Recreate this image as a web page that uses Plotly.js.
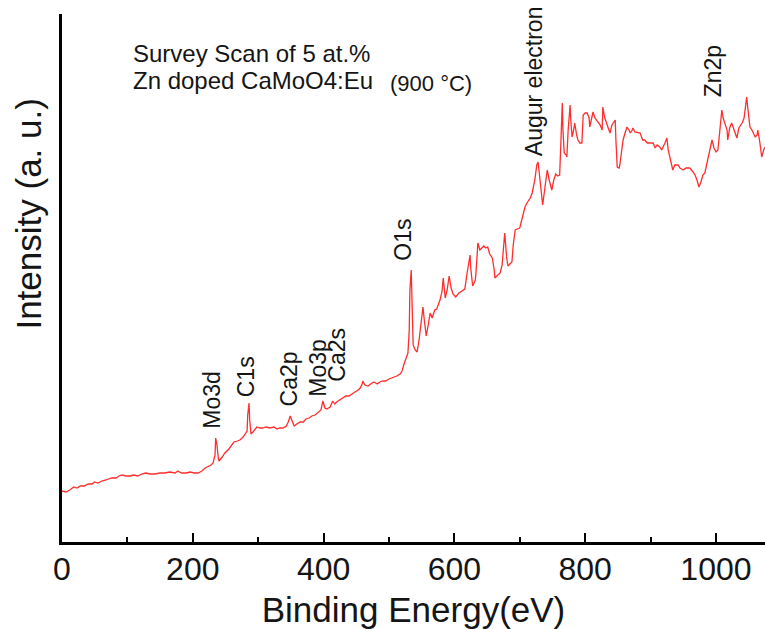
<!DOCTYPE html>
<html>
<head>
<meta charset="utf-8">
<script src="https://cdn.plot.ly/plotly-3.0.1.min.js"></script>
<style>
  html, body { margin: 0; padding: 0; background: #fff; }
  #chart { width: 765px; height: 629px; }
</style>
</head>
<body>
<div id="chart"></div>
<script>
// XPS survey spectrum: binding energy (eV) vs. intensity (a.u.)
const energy = [
  0, 6, 12, 18, 23, 28, 34, 40, 46, 50, 55, 61, 67, 72, 76, 83, 87, 92, 98, 104,
  110, 116, 122, 128, 135, 142, 150, 157, 165, 173, 177, 183, 190, 196, 202, 208, 214, 219, 223, 228,
  231, 234, 235, 237, 239, 240, 245, 249, 254, 258, 263, 268, 272, 277, 280, 283, 284, 286, 287, 289,
  292, 295, 298, 303, 307, 312, 318, 324, 329, 333, 338, 343, 346, 349, 352, 355, 359, 364, 369, 373,
  378, 382, 387, 391, 396, 399, 402, 405, 410, 414, 417, 420, 425, 430, 434, 439, 443, 448, 453, 456,
  459, 460, 463, 468, 472, 477, 482, 486, 491, 495, 500, 505, 509, 512, 517, 520, 523, 526, 529, 531,
  532, 534, 535, 537, 540, 543, 546, 549, 550, 552, 554, 557, 560, 563, 566, 570, 573, 578, 581, 583,
  586, 589, 592, 595, 598, 602, 607, 612, 616, 619, 622, 624, 625, 628, 632, 633, 636, 639, 642, 645,
  648, 651, 654, 658, 661, 662, 665, 670, 673, 676, 677, 680, 682, 685, 688, 690, 693, 696, 700, 703,
  706, 708, 711, 716, 719, 723, 726, 728, 729, 732, 735, 739, 742, 745, 749, 752, 755, 758, 761, 763,
  765, 766, 768, 771, 772, 774, 777, 778, 780, 783, 784, 787, 789, 792, 795, 797, 800, 803, 806, 807,
  810, 812, 815, 820, 823, 826, 827, 830, 833, 836, 838, 841, 843, 846, 847, 849, 852, 853, 856, 858,
  861, 864, 867, 869, 872, 873, 876, 881, 884, 888, 891, 895, 899, 904, 907, 910, 914, 917, 922, 925,
  927, 930, 934, 937, 942, 945, 950, 954, 960, 965, 968, 971, 974, 977, 980, 983, 986, 991, 994, 997,
  1000, 1003, 1006, 1009, 1011, 1014, 1017, 1018, 1021, 1024, 1028, 1032, 1035, 1040, 1043, 1046, 1047, 1049, 1052, 1055,
  1060, 1063, 1064, 1067, 1070, 1073, 1075
];
const intensity = [
  51, 50, 52, 55, 54, 56, 56, 58, 58, 60, 59, 61, 62, 63, 64, 64, 66, 67, 66, 66,
  67, 66, 68, 69, 68, 68, 69, 69, 70, 69, 71, 69, 69, 70, 69, 69, 71, 74, 75, 77,
  79, 87, 104, 97, 84, 81, 85, 89, 92, 96, 100, 101, 102, 105, 108, 111, 127, 139, 122, 108,
  110, 113, 115, 114, 114, 115, 114, 115, 113, 114, 114, 116, 120, 126, 121, 116, 118, 120, 120, 123,
  124, 126, 127, 129, 132, 141, 134, 133, 135, 141, 138, 140, 142, 144, 146, 146, 148, 150, 152, 154,
  158, 161, 157, 156, 158, 160, 158, 160, 161, 161, 163, 164, 165, 166, 168, 171, 178, 184, 189, 212,
  252, 272, 232, 197, 192, 190, 202, 217, 226, 235, 222, 206, 217, 229, 224, 232, 233, 242, 250, 264,
  244, 252, 266, 254, 248, 245, 249, 251, 253, 267, 280, 287, 274, 256, 262, 269, 299, 292, 294, 296,
  294, 295, 288, 284, 272, 264, 266, 269, 277, 302, 309, 284, 276, 278, 280, 297, 312, 313, 314, 322,
  332, 335, 339, 344, 349, 362, 377, 380, 374, 352, 337, 357, 372, 362, 352, 362, 368, 366, 367, 402,
  439, 412, 389, 387, 385, 412, 437, 422, 405, 414, 419, 407, 402, 399, 399, 427, 429, 429, 424, 415,
  426, 430, 424, 419, 417, 412, 435, 424, 419, 412, 409, 417, 419, 422, 402, 375, 374, 377, 392, 402,
  409, 415, 412, 409, 412, 414, 410, 409, 409, 402, 402, 399, 399, 399, 394, 397, 395, 392, 399, 404,
  392, 382, 372, 377, 377, 374, 372, 374, 374, 370, 367, 362, 355, 360, 367, 369, 379, 392, 402, 394,
  390, 392, 412, 432, 424, 419, 412, 402, 414, 419, 412, 404, 414, 419, 424, 437, 445, 432, 415, 412,
  405, 407, 412, 400, 385, 392, 395
];

// Peak assignments and the binding energy each label sits over
const peakNames = ['Mo3d', 'C1s', 'Ca2p', 'Mo3p', 'Ca2s', 'O1s', 'Augur electron', 'Zn2p'];
const peakEnergy = [229, 281, 347, 391, 420, 521, 722, 996];

const tickValues = [0, 200, 400, 600, 800, 1000];
const tickLabels = ['0', '200', '400', '600', '800', '1000'];

// Height (in intensity units) at which each rotated label begins
const labelBase = [112, 144, 135, 144, 159, 280, 385, 444];

const FONT = 'Liberation Sans, Arial, sans-serif';
const INK = '#151515';

const peakAnnotations = peakNames.map((name, i) => ({
  text: name,
  x: peakEnergy[i], xref: 'x',
  y: labelBase[i], yref: 'y',
  xanchor: 'center', yanchor: 'bottom',
  textangle: -90,
  showarrow: false,
  borderpad: 0,
  font: { family: FONT, size: 23, color: INK }
}));

const annotations = peakAnnotations.concat([
  {
    text: 'Survey Scan of 5 at.%',
    xref: 'x', x: 105, yref: 'y', y: 489,
    xanchor: 'left', yanchor: 'middle', showarrow: false,
    font: { family: FONT, size: 24, color: INK }
  },
  {
    text: 'Zn doped CaMoO4:Eu',
    xref: 'x', x: 105, yref: 'y', y: 462,
    xanchor: 'left', yanchor: 'middle', showarrow: false,
    font: { family: FONT, size: 24, color: INK }
  },
  {
    text: '(900 °C)',
    xref: 'x', x: 498, yref: 'y', y: 459,
    xanchor: 'left', yanchor: 'middle', showarrow: false,
    font: { family: FONT, size: 22, color: INK }
  },
  {
    text: 'Intensity (a. u.)',
    xref: 'paper', x: -0.0477, yref: 'paper', y: 0.621,
    xanchor: 'center', yanchor: 'middle', textangle: -90, showarrow: false,
    font: { family: FONT, size: 35, color: INK }
  }
]);

const trace = {
  x: energy,
  y: intensity,
  type: 'scatter',
  mode: 'lines',
  line: { color: 'rgb(255,45,45)', width: 1.3 },
  hoverinfo: 'x+y'
};

const layout = {
  width: 765,
  height: 629,
  margin: { l: 62, r: 0, t: 14, b: 87 },
  paper_bgcolor: '#fff',
  plot_bgcolor: '#fff',
  showlegend: false,
  font: { family: FONT, color: INK },
  xaxis: {
    range: [0, 1075],
    showgrid: false,
    zeroline: false,
    showline: true,
    linecolor: '#000',
    linewidth: 3,
    ticks: 'inside',
    ticklen: 9,
    tickwidth: 2,
    tickcolor: '#000',
    tickvals: tickValues,
    ticktext: tickLabels,
    ticklabelstandoff: -3,
    tickfont: { family: FONT, size: 32, color: INK },
    minor: { dtick: 100, ticks: 'inside', ticklen: 5, tickwidth: 2, tickcolor: '#000' },
    title: {
      text: 'Binding Energy(eV)',
      standoff: 14,
      font: { family: FONT, size: 35, color: INK }
    },
    fixedrange: true
  },
  yaxis: {
    range: [0, 528],
    showgrid: false,
    zeroline: false,
    showline: true,
    linecolor: '#000',
    linewidth: 3,
    ticks: '',
    showticklabels: false,
    fixedrange: true
  },
  annotations: annotations
};

Plotly.newPlot('chart', [trace], layout, { displayModeBar: false, staticPlot: true });
</script>
</body>
</html>
